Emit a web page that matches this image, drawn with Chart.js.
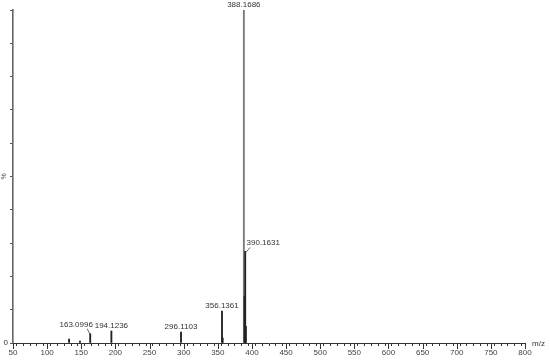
<!DOCTYPE html>
<html><head><meta charset="utf-8">
<script src="https://cdn.jsdelivr.net/npm/chart.js@4.4.1/dist/chart.umd.min.js"></script>
<style>html,body{margin:0;padding:0;background:#fff;}#wrap{width:550px;height:360px;}</style>
</head><body><div id="wrap"><canvas id="c" width="550" height="360"></canvas></div>
<script>
// m/z of each stick peak
const mzValues = [132.1, 148.1, 163.0996, 194.1236, 296.1103, 356.1361, 357.14, 388.1686, 389.17, 390.1631, 391.16];
// relative intensity (%)
const intensities = [1.2, 0.6, 2.8, 3.6, 3.3, 9.6, 1.5, 100, 14, 27.5, 5];
// annotated peaks
const labelledMz = [163.0996, 194.1236, 296.1103, 356.1361, 388.1686, 390.1631];
const labelText = ["163.0996", "194.1236", "296.1103", "356.1361", "388.1686", "390.1631"];
const xTickMin = 50, xTickMax = 800, xMinorStep = 10, xMajorStep = 50;
const yMin = 0, yMax = 100, yStep = 10;

const FONT = "'Liberation Sans', Arial, sans-serif";
const labelStyle = { // layout offsets (px) for label placement
  "163.0996": {dx: -14, dy: -9, leader: true},
  "390.1631": {dx: 18, dy: -9, leader: true},
};

const annot = {
  id: 'annot',
  afterDatasetsDraw(chart) {
    const ctx = chart.ctx, xs = chart.scales.x, ys = chart.scales.y;
    ctx.save();
    ctx.font = '8px ' + FONT;
    ctx.fillStyle = '#333';
    ctx.textAlign = 'center';
    ctx.textBaseline = 'middle';
    labelledMz.forEach((m, i) => {
      const idx = mzValues.indexOf(m);
      const px = xs.getPixelForValue(m);
      const py = ys.getPixelForValue(intensities[idx]);
      const st = labelStyle[labelText[i]] || {dx: 0, dy: -5};
      const tx = px + st.dx, ty = py + st.dy;
      ctx.fillText(labelText[i], tx, ty);
      if (st.leader) {
        ctx.strokeStyle = '#444'; ctx.lineWidth = 0.8;
        ctx.beginPath();
        if (st.dx < 0) { ctx.moveTo(tx + 11, ty + 4); ctx.lineTo(px, py + 1); }
        else { ctx.moveTo(tx - 13, ty + 5); ctx.lineTo(px + 0.5, py + 1); }
        ctx.stroke();
      }
    });
    // longer major ticks on x axis
    ctx.strokeStyle = '#333'; ctx.lineWidth = 1;
    const yb = ys.getPixelForValue(yMin);
    for (let v = xTickMin; v <= xTickMax; v += xMajorStep) {
      const x = Math.round(xs.getPixelForValue(v)) + 0.5;
      ctx.beginPath(); ctx.moveTo(x, yb); ctx.lineTo(x, yb + 6); ctx.stroke();
    }
    // axis unit label
    ctx.textAlign = 'left';
    ctx.fillStyle = '#333';
    ctx.font = '8px ' + FONT;
    ctx.fillText('m/z', xs.right + 7, yb + 1);
    ctx.restore();
  }
};

new Chart(document.getElementById('c'), {
  type: 'bar',
  data: {
    datasets: [{
      data: mzValues.map((m, i) => ({x: m, y: intensities[i]})),
      backgroundColor: mzValues.map((m) => m === 388.1686 ? '#7a7a7a' : '#222'),
      barThickness: 1.2,
      borderWidth: 0
    }]
  },
  options: {
    responsive: false,
    animation: false,
    devicePixelRatio: 1,
    layout: {padding: {left: 0, right: 25, top: 10, bottom: 2}},
    plugins: {legend: {display: false}, tooltip: {enabled: false}},
    scales: {
      x: {
        type: 'linear', offset: false, min: xTickMin, max: xTickMax,
        grid: {drawOnChartArea: false, tickLength: 3, color: '#333'},
        border: {color: '#333', width: 1},
        ticks: {
          stepSize: xMinorStep, autoSkip: false, maxRotation: 0, padding: 2,
          color: '#444', font: {family: FONT, size: 8},
          callback: v => (v % xMajorStep === 0 ? String(v) : '')
        },
        afterFit: s => { s.height = 15; }
      },
      y: {
        min: yMin, max: yMax,
        grid: {drawOnChartArea: false, tickLength: 3, color: '#555'},
        border: {color: '#666', width: 1.6},
        ticks: {
          stepSize: yStep, padding: 2, color: '#333', font: {family: FONT, size: 8},
          callback: v => (v === 0 ? '0' : '')
        },
        title: {display: true, text: '%', color: '#555', font: {family: FONT, size: 7}, padding: 0},
        afterFit: s => { s.width = 13; }
      }
    }
  },
  plugins: [annot]
});
</script></body></html>
